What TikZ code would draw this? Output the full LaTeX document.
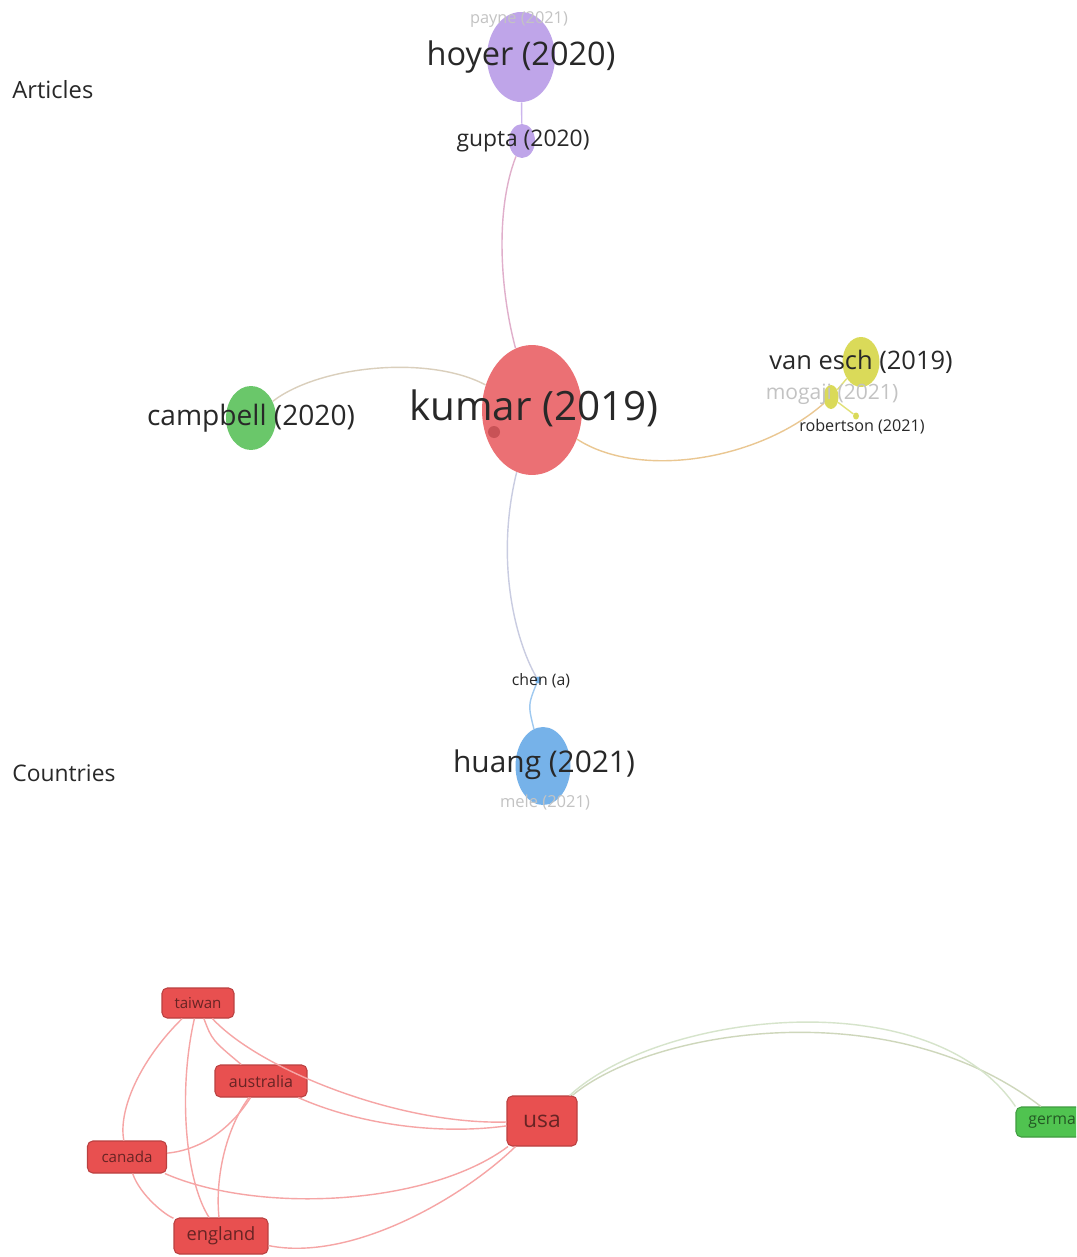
\documentclass[tikz,border=0pt]{standalone}
\usepackage{fontspec}
\setmainfont{Open Sans}
\usetikzlibrary{shapes.geometric}
\definecolor{kred}{RGB}{232,88,92}
\definecolor{kpurple}{RGB}{180,150,230}
\definecolor{kgreen}{RGB}{80,190,80}
\definecolor{kyellow}{RGB}{212,212,60}
\definecolor{kblue}{RGB}{95,165,230}
\definecolor{boxred}{RGB}{232,80,80}
\definecolor{boxgreen}{RGB}{80,195,80}
\definecolor{txtdark}{RGB}{40,40,40}
\definecolor{txtfade}{RGB}{195,195,195}
\definecolor{lnkred}{RGB}{246,165,165}
\begin{document}
\begin{tikzpicture}[
			x=0.02cm, y=-0.02cm,
			bubble/.style={ellipse,inner sep=0pt,fill=#1,fill opacity=0.85,draw=none},
			lbl/.style={text=txtdark,inner sep=0pt},
			faded/.style={text=txtfade,inner sep=0pt},
			ctry/.style={rectangle,rounded corners=3pt,fill=#1,draw=#1!80!black,text=#1!45!black,line width=0.6pt,inner sep=0pt},
			lnk/.style={line width=0.8pt,#1}
		]
		\clip (0,0) rectangle (1076,1257);
		\fill[white] (0,0) rectangle (1076,1257);
		% section labels
		\node[lbl,anchor=west,font=\fontsize{13.5}{16}\selectfont] (articles) at (12,90) {Articles};
		\node[lbl,anchor=west,font=\fontsize{13}{16}\selectfont] (countries) at (12,773) {Countries};
		% article bubbles
		\node[bubble=kred,minimum width=2cm,minimum height=2.6cm] (kumar) at (532,410) {};
		\node[circle,inner sep=0pt,minimum size=0.24cm,fill=kred!80!black,fill opacity=0.7] (kumardot) at (494,432) {};
		\node[bubble=kpurple,minimum width=1.36cm,minimum height=1.8cm] (hoyer) at (521,57) {};
		\node[bubble=kpurple,minimum width=0.52cm,minimum height=0.68cm] (gupta) at (522,141) {};
		\node[bubble=kgreen,minimum width=1cm,minimum height=1.28cm] (campbell) at (251,418) {};
		\node[bubble=kyellow,minimum width=0.74cm,minimum height=1cm] (vanesch) at (861,362) {};
		\node[bubble=kyellow,minimum width=0.3cm,minimum height=0.48cm] (mogaji) at (831,397) {};
		\node[bubble=kyellow,minimum width=0.12cm,minimum height=0.14cm] (robertson) at (856,416) {};
		\node[bubble=kblue,minimum width=0.12cm,minimum height=0.14cm] (chen) at (538,680) {};
		\node[bubble=kblue,minimum width=1.1cm,minimum height=1.56cm] (huang) at (543,766) {};
		% article links
		\draw[lnk={color=kred!45!kpurple!60}] (kumar) .. controls (500,290) and (495,210) .. (gupta);
		\draw[lnk={color=kpurple!70}] (gupta) -- (hoyer);
		\draw[lnk={color=kgreen!45!kred!40}] (kumar) .. controls (430,355) and (320,365) .. (campbell);
		\draw[lnk={color=kred!40!kyellow!60}] (kumar) .. controls (640,480) and (760,460) .. (mogaji);
		\draw[lnk={color=kyellow!70}] (mogaji) -- (vanesch);
		\draw[lnk={color=kyellow!70}] (mogaji) -- (robertson);
		\draw[lnk={color=kred!30!kblue!45}] (kumar) .. controls (495,560) and (515,640) .. (chen);
		\draw[lnk={color=kblue!60}] (chen) .. controls (528,705) .. (huang);
		% article labels
		\node[faded,font=\fontsize{9.3}{11}\selectfont] (paynelbl) at (519,20) {payne (2021)};
		\node[lbl,font=\fontsize{18.5}{22}\selectfont] (hoyerlbl) at (521,57) {hoyer (2020)};
		\node[lbl,font=\fontsize{13}{15}\selectfont] (guptalbl) at (523,141) {gupta (2020)};
		\node[lbl,font=\fontsize{16}{19}\selectfont] (campbelllbl) at (251,418) {campbell (2020)};
		\node[lbl,font=\fontsize{23}{27}\selectfont] (kumarlbl) at (534,408) {kumar (2019)};
		\node[lbl,font=\fontsize{14.5}{17}\selectfont] (vaneschlbl) at (861,362) {van esch (2019)};
		\node[faded,font=\fontsize{12}{14}\selectfont] (mogajilbl) at (832,394) {mogaji (2021)};
		\node[lbl,font=\fontsize{9.2}{11}\selectfont] (robertsonlbl) at (862,427) {robertson (2021)};
		\node[lbl,font=\fontsize{9}{11}\selectfont] (chenlbl) at (541,681) {chen (a)};
		\node[lbl,font=\fontsize{17}{20}\selectfont] (huanglbl) at (544,765) {huang (2021)};
		\node[faded,font=\fontsize{9.4}{11}\selectfont] (melelbl) at (545,803) {mele (2021)};
		% countries
		\node[ctry=boxred,minimum width=1.44cm,minimum height=0.6cm,font=\fontsize{8.6}{10}\selectfont] (taiwan) at (198,1003) {taiwan};
		\node[ctry=boxred,minimum width=1.84cm,minimum height=0.64cm,font=\fontsize{9.1}{11}\selectfont] (australia) at (261,1081) {australia};
		\node[ctry=boxred,minimum width=1.58cm,minimum height=0.64cm,font=\fontsize{8.6}{10}\selectfont] (canada) at (127,1157) {canada};
		\node[ctry=boxred,minimum width=1.88cm,minimum height=0.72cm,font=\fontsize{10.4}{12}\selectfont] (england) at (221,1236) {england};
		\node[ctry=boxred,minimum width=1.4cm,minimum height=1cm,font=\fontsize{13}{15}\selectfont] (usa) at (542,1121) {usa};
		\node[ctry=boxgreen,minimum width=1.8cm,minimum height=0.6cm,font=\fontsize{9}{11}\selectfont] (germany) at (1061,1122) {germany};
		% country links
		\begin{scope}[lnk={color=lnkred}]
			\draw (taiwan) .. controls (212,1040) .. (australia);
			\draw (taiwan) .. controls (140,1060) and (118,1110) .. (canada);
			\draw (taiwan) .. controls (178,1090) and (185,1180) .. (england);
			\draw (taiwan) .. controls (260,1070) and (400,1125) .. (usa);
			\draw (australia) .. controls (360,1125) and (440,1135) .. (usa);
			\draw (australia) .. controls (230,1130) and (200,1150) .. (canada);
			\draw (australia) .. controls (225,1130) and (215,1180) .. (england);
			\draw (canada) .. controls (140,1195) and (165,1215) .. (england);
			\draw (canada) .. controls (260,1215) and (430,1205) .. (usa);
			\draw (england) .. controls (350,1262) and (460,1200) .. (usa);
		\end{scope}
		\draw[lnk={color=kred!35!kgreen!40}] (usa) .. controls (650,1030) and (890,990) .. (germany);
		\draw[lnk={color=kred!25!kgreen!30}] (usa) .. controls (660,1012) and (930,980) .. (germany.north west);
	\end{tikzpicture}
\end{document}
